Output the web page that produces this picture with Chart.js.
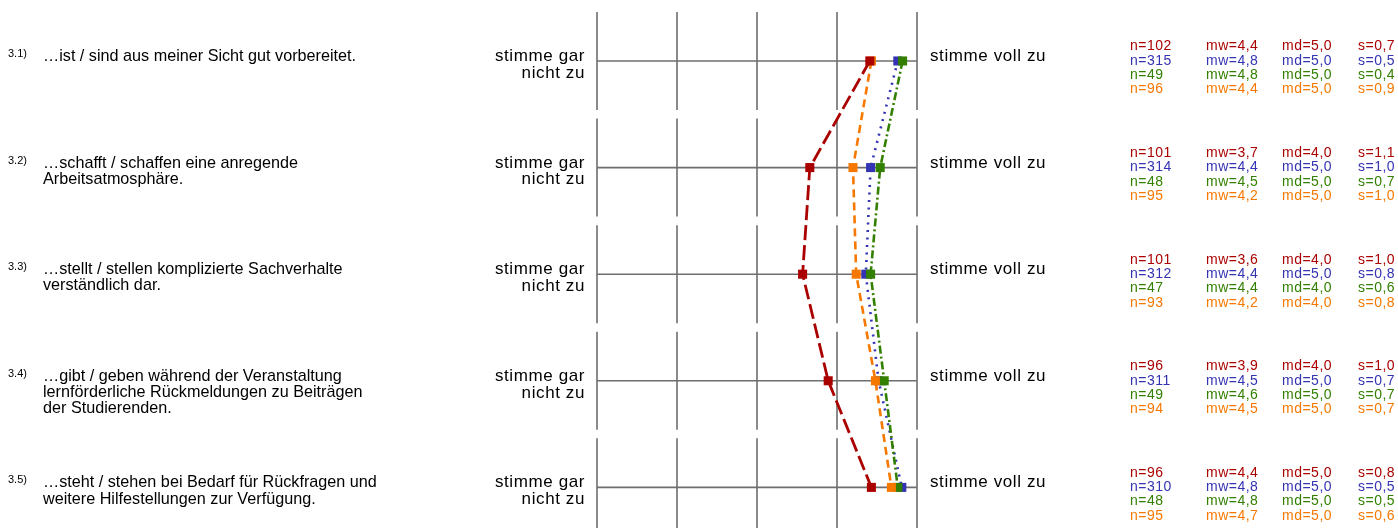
<!DOCTYPE html>
<html>
<head>
<meta charset="utf-8">
<script src="https://cdn.jsdelivr.net/npm/chart.js@4.4.1/dist/chart.umd.min.js"></script>
<style>
  body { margin: 0; background: #ffffff; }
  #wrap { width: 1398px; height: 528px; position: relative; }
</style>
</head>
<body>
<div id="wrap"><canvas id="profile"></canvas></div>
<script>
// Rows (items) and scale
const rowNums = [1, 2, 3, 4, 5];
const itemNumbers = ['3.1)', '3.2)', '3.3)', '3.4)', '3.5)'];
const itemTexts = [
    ['…ist / sind aus meiner Sicht gut vorbereitet.'],
    ['…schafft / schaffen eine anregende', 'Arbeitsatmosphäre.'],
    ['…stellt / stellen komplizierte Sachverhalte', 'verständlich dar.'],
    ['…gibt / geben während der Veranstaltung', 'lernförderliche Rückmeldungen zu Beiträgen', 'der Studierenden.'],
    ['…steht / stehen bei Bedarf für Rückfragen und', 'weitere Hilfestellungen zur Verfügung.']
];
const leftPole = ['stimme gar', 'nicht zu'];
const rightPole = 'stimme voll zu';
const scaleTicks = [1, 2, 3, 4, 5];

// Plotted means per series
const meanRed    = [4.41, 3.66, 3.57, 3.89, 4.43];
const meanBlue   = [4.76, 4.42, 4.36, 4.52, 4.81];
const meanGreen  = [4.82, 4.54, 4.42, 4.59, 4.76];
const meanOrange = [4.43, 4.20, 4.24, 4.48, 4.68];

// Statistics shown on the right
const nRed    = [102, 101, 101, 96, 96];
const nBlue   = [315, 314, 312, 311, 310];
const nGreen  = [49, 48, 47, 49, 48];
const nOrange = [96, 95, 93, 94, 95];
const mwRed    = ['4,4', '3,7', '3,6', '3,9', '4,4'];
const mwBlue   = ['4,8', '4,4', '4,4', '4,5', '4,8'];
const mwGreen  = ['4,8', '4,5', '4,4', '4,6', '4,8'];
const mwOrange = ['4,4', '4,2', '4,2', '4,5', '4,7'];
const mdRed    = ['5,0', '4,0', '4,0', '4,0', '5,0'];
const mdBlue   = ['5,0', '5,0', '5,0', '5,0', '5,0'];
const mdGreen  = ['5,0', '5,0', '4,0', '5,0', '5,0'];
const mdOrange = ['5,0', '5,0', '4,0', '5,0', '5,0'];
const sRed    = ['0,7', '1,1', '1,0', '1,0', '0,8'];
const sBlue   = ['0,5', '1,0', '0,8', '0,7', '0,5'];
const sGreen  = ['0,4', '0,7', '0,6', '0,7', '0,5'];
const sOrange = ['0,9', '1,0', '0,8', '0,7', '0,6'];

const RED = '#aa0000', BLUE = '#3333b3', GREEN = '#338000', ORANGE = '#f77800';
const FONT = '"Liberation Sans", Arial, sans-serif';

function toPoints(means) {
    return means.map((m, i) => ({ x: m, y: rowNums[i] }));
}

function series(label, means, color, dash, width, order) {
    return {
        label: label,
        data: toPoints(means),
        borderColor: color,
        backgroundColor: color,
        borderWidth: width,
        borderDash: dash,
        pointStyle: 'rect',
        pointRadius: 6.4,
        pointHoverRadius: 6.4,
        pointBorderWidth: 0,
        pointBackgroundColor: color,
        tension: 0,
        fill: false,
        clip: false,
        order: order
    };
}

// grid (segmented per row) and all the texts
const rowPlugin = {
    id: 'rowPlugin',
    beforeDatasetsDraw(chart) {
        const ctx = chart.ctx, xs = chart.scales.x, ys = chart.scales.y;
        ctx.save();
        ctx.strokeStyle = '#6e6e6e';
        ctx.lineWidth = 1.6;
        rowNums.forEach(r => {
            const yc = ys.getPixelForValue(r);
            ctx.beginPath();
            ctx.moveTo(xs.getPixelForValue(scaleTicks[0]), yc);
            ctx.lineTo(xs.getPixelForValue(scaleTicks[scaleTicks.length - 1]), yc);
            ctx.stroke();
            const top = ys.getPixelForValue(r - 0.46);
            const bot = ys.getPixelForValue(r + 0.46);
            scaleTicks.forEach(v => {
                const xp = xs.getPixelForValue(v);
                ctx.beginPath();
                ctx.moveTo(xp, top);
                ctx.lineTo(xp, bot);
                ctx.stroke();
            });
        });
        ctx.restore();
    },
    afterDraw(chart) {
        const ctx = chart.ctx, xs = chart.scales.x, ys = chart.scales.y;
        const left = xs.getPixelForValue(scaleTicks[0]);
        const right = xs.getPixelForValue(scaleTicks[scaleTicks.length - 1]);
        ctx.save();
        ctx.textBaseline = 'alphabetic';
        rowNums.forEach((r, i) => {
            const yc = ys.getPixelForValue(r);

            // item number
            ctx.fillStyle = '#000';
            ctx.letterSpacing = '0px';
            ctx.textAlign = 'left';
            ctx.font = '11px ' + FONT;
            ctx.fillText(itemNumbers[i], 8, yc - 4);

            // item text
            ctx.font = '16.2px ' + FONT;
            itemTexts[i].forEach((line, k) => ctx.fillText(line, 43, yc + k * 16.3));

            // poles
            ctx.font = '17px ' + FONT;
            ctx.letterSpacing = '0.6px';
            ctx.textAlign = 'right';
            leftPole.forEach((line, k) => ctx.fillText(line, left - 12, yc + k * 16.8));
            ctx.textAlign = 'left';
            ctx.fillText(rightPole, right + 13, yc);

            // statistics
            ctx.letterSpacing = '0.5px';
            ctx.font = '14px ' + FONT;
            const rows = [
                [RED, nRed, mwRed, mdRed, sRed],
                [BLUE, nBlue, mwBlue, mdBlue, sBlue],
                [GREEN, nGreen, mwGreen, mdGreen, sGreen],
                [ORANGE, nOrange, mwOrange, mdOrange, sOrange]
            ];
            rows.forEach((s, k) => {
                const yy = yc - 10.5 + k * 14.3;
                ctx.fillStyle = s[0];
                ctx.fillText('n=' + s[1][i], 1130, yy);
                ctx.fillText('mw=' + s[2][i], 1206, yy);
                ctx.fillText('md=' + s[3][i], 1282, yy);
                ctx.fillText('s=' + s[4][i], 1358, yy);
            });
        });
        ctx.restore();
    }
};

const ctx = document.getElementById('profile').getContext('2d');
const chart = new Chart(ctx, {
    type: 'line',
    data: {
        datasets: [
            series('rot', meanRed, RED, [15, 5], 2.8, 0),
            series('blau', meanBlue, BLUE, [2, 5.5], 2.6, 3),
            series('grün', meanGreen, GREEN, [8, 3, 2, 3], 2.6, 2),
            series('orange', meanOrange, ORANGE, [8, 5], 2.6, 1)
        ]
    },
    options: {
        indexAxis: 'y',
        responsive: true,
        maintainAspectRatio: false,
        animation: false,
        layout: { autoPadding: false, padding: { left: 597, right: 481, top: 0, bottom: 0 } },
        scales: {
            x: { type: 'linear', min: 1, max: 5, display: false },
            y: { type: 'linear', min: 0.428, max: 5.381, reverse: true, display: false }
        },
        plugins: {
            legend: { display: false },
            tooltip: { enabled: false }
        }
    },
    plugins: [rowPlugin]
});
</script>
</body>
</html>
